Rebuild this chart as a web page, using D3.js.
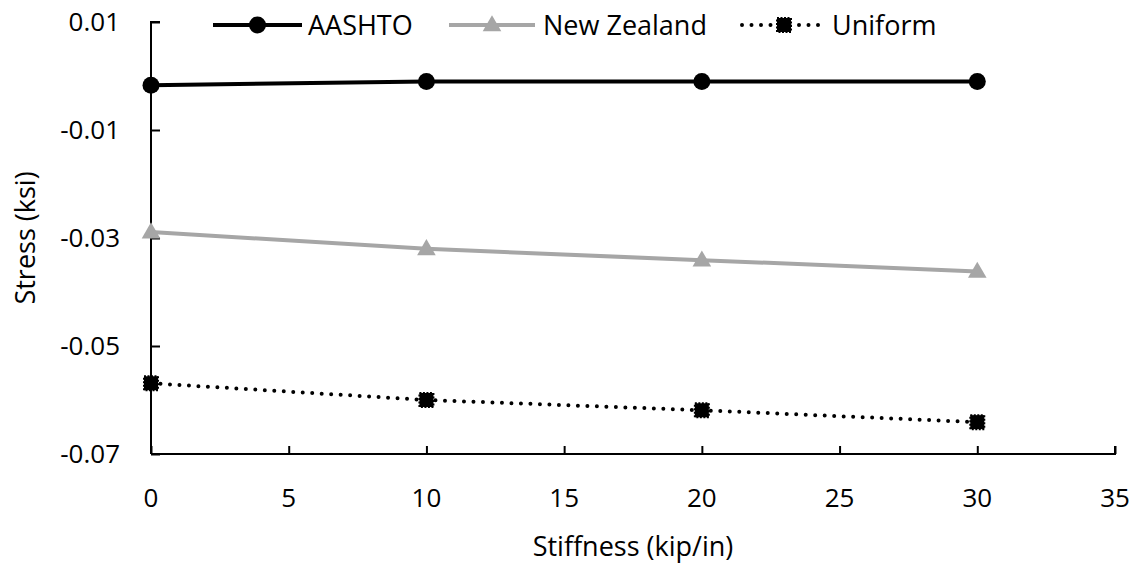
<!DOCTYPE html>
<html>
<head>
<meta charset="utf-8">
<script src="https://cdn.jsdelivr.net/npm/d3@7"></script>
<style>
  html, body { margin: 0; padding: 0; background: #fff; }
  svg { display: block; }
  text { font-family: "Open Sans", "Liberation Sans", sans-serif; fill: #000; }
</style>
</head>
<body>
<svg id="chart" width="1139" height="564"></svg>
<script>
// ---- data ----
const stiffness = [0, 10, 20, 30];
const aashto = [-0.0017, -0.0010, -0.0010, -0.0010];
const newZealand = [-0.0289, -0.0320, -0.0341, -0.0362];
const uniform = [-0.0569, -0.0600, -0.0619, -0.0641];
const seriesNames = ["AASHTO", "New Zealand", "Uniform"];
const xTicks = [0, 5, 10, 15, 20, 25, 30, 35];
const yTicks = [0.01, -0.01, -0.03, -0.05, -0.07];
const yTickLabels = ["0.01", "-0.01", "-0.03", "-0.05", "-0.07"];
const xTitle = "Stiffness (kip/in)";
const yTitle = "Stress (ksi)";

// ---- layout ----
const svg = d3.select("#chart");
const pLeft = 151, pRight = 1115, pTop = 22, pBottom = 454;
const x = d3.scaleLinear().domain([0, 35]).range([pLeft, pRight]);
const y = d3.scaleLinear().domain([-0.07, 0.01]).range([pBottom, pTop]);
const fontSize = 26;

// axes
const xAxis = d3.axisBottom(x).tickValues(xTicks).tickSize(-8).tickPadding(0).tickFormat(() => "");
const gx = svg.append("g").attr("transform", `translate(0,${pBottom})`).call(xAxis);
const yAxis = d3.axisLeft(y).tickValues(yTicks).tickSize(-9).tickFormat(() => "");
const gy = svg.append("g").attr("transform", `translate(${pLeft},0)`).call(yAxis);
[gx, gy].forEach(g => {
  g.select(".domain").attr("stroke", "#000").attr("stroke-width", 2);
  g.selectAll(".tick line").attr("stroke", "#000").attr("stroke-width", 2);
});
gx.select(".domain").attr("d", `M${pLeft},0H${pRight}V-8`);
gy.select(".domain").attr("d", `M9,${pTop}H0V${pBottom}`);

// tick labels
svg.append("g").selectAll("text").data(xTicks).join("text")
  .attr("x", d => x(d)).attr("y", 507)
  .attr("text-anchor", "middle").attr("font-size", fontSize)
  .text(d => String(d));
svg.append("g").selectAll("text").data(yTicks).join("text")
  .attr("x", 120).attr("y", d => y(d)).attr("dy", "0.36em")
  .attr("text-anchor", "end").attr("font-size", fontSize)
  .text((d, i) => yTickLabels[i]);

// titles
svg.append("text").attr("x", (pLeft + pRight) / 2).attr("y", 556)
  .attr("text-anchor", "middle").attr("font-size", 27).text(xTitle);
svg.append("text").attr("transform", `translate(35,${(pTop + pBottom) / 2}) rotate(-90)`)
  .attr("text-anchor", "middle").attr("font-size", 27).text(yTitle);

// series
const series = [
  { name: seriesNames[0], values: aashto, color: "#000", dash: null, marker: "circle" },
  { name: seriesNames[1], values: newZealand, color: "#a6a6a6", dash: null, marker: "triangle" },
  { name: seriesNames[2], values: uniform, color: "#000", dash: "0,9.5", marker: "square" }
];

const line = d3.line().x(d => x(d[0])).y(d => y(d[1]));

function drawMarker(g, type, color) {
  if (type === "circle") {
    g.append("circle").attr("r", 8.5).attr("fill", color);
  } else if (type === "triangle") {
    g.append("path").attr("d", d3.symbol(d3.symbolTriangle, 150)()).attr("fill", color)
      .attr("transform", "translate(0,1)");
  } else {
    g.append("rect").attr("x", -7).attr("y", -7).attr("width", 14).attr("height", 14)
      .attr("fill", color).attr("stroke", color).attr("stroke-width", 2).attr("stroke-dasharray", "2,1.5");
  }
}

series.forEach(s => {
  const pts = stiffness.map((k, i) => [k, s.values[i]]);
  svg.append("path").datum(pts).attr("d", line)
    .attr("fill", "none").attr("stroke", s.color)
    .attr("stroke-width", 4)
    .attr("stroke-linecap", "round")
    .attr("stroke-dasharray", s.dash);
  pts.forEach(p => {
    const g = svg.append("g").attr("transform", `translate(${x(p[0])},${y(p[1])})`);
    drawMarker(g, s.marker, s.color);
  });
});

// legend
const legendY = 25;
const legendItems = [
  { lx0: 213, lx1: 302, tx: 308 },
  { lx0: 449, lx1: 535, tx: 543 },
  { lx0: 742, lx1: 826, tx: 832 }
];
series.forEach((s, i) => {
  const L = legendItems[i];
  svg.append("line").attr("x1", L.lx0).attr("x2", L.lx1).attr("y1", legendY).attr("y2", legendY)
    .attr("stroke", s.color).attr("stroke-width", 4)
    .attr("stroke-linecap", s.dash ? "round" : "butt")
    .attr("stroke-dasharray", s.dash);
  const g = svg.append("g").attr("transform", `translate(${(L.lx0 + L.lx1) / 2},${legendY})`);
  drawMarker(g, s.marker, s.color);
  svg.append("text").attr("x", L.tx).attr("y", legendY).attr("dy", "0.36em")
    .attr("font-size", 27).text(s.name);
});
</script>
</body>
</html>
